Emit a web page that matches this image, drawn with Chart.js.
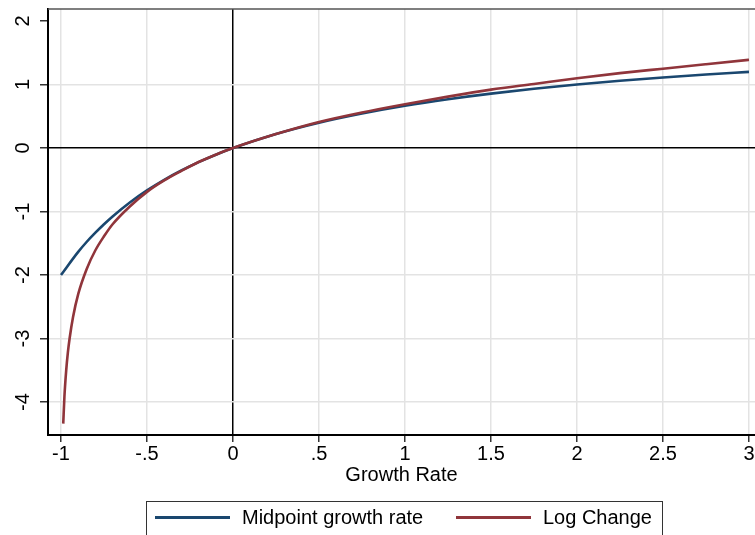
<!DOCTYPE html>
<html>
<head>
<meta charset="utf-8">
<script src="https://cdn.jsdelivr.net/npm/chart.js@4.4.1/dist/chart.umd.min.js"></script>
<style>
    body { margin: 0; background: #fff; }
    #wrap { position: relative; width: 755px; height: 535px; overflow: hidden; }
    #legend {
        position: absolute; left: 146px; top: 501px; width: 517px; height: 45px;
        border: 1px solid #333; box-sizing: border-box;
        font-family: "Liberation Sans", Arial, sans-serif; font-size: 20px; color: #000;
    }
    .item { position: absolute; top: 4px; display: flex; align-items: center; }
    .swatch { width: 75px; height: 3px; margin-right: 12px; }
</style>
</head>
<body>
<div id="wrap">
    <canvas id="growthChart" width="755" height="535"></canvas>
    <div id="legend"></div>
</div>
<script>
// growth rate (x)
const growthRate = [-1, -0.987, -0.98, -0.97, -0.96, -0.95, -0.93, -0.9, -0.85, -0.8, -0.75, -0.7,
    -0.6, -0.5, -0.4, -0.3, -0.2, -0.1, 0, 0.25, 0.5, 0.75, 1, 1.25, 1.5, 1.75, 2, 2.25, 2.5, 2.75, 3];

const midpointRate = [-2, -1.974, -1.961, -1.942, -1.923, -1.905, -1.869, -1.636, -1.476, -1.333, -1.2, -1.077,
    -0.857, -0.667, -0.5, -0.353, -0.222, -0.105, 0, 0.222, 0.4, 0.545, 0.667, 0.769, 0.857, 0.933, 1.0, 1.059, 1.111, 1.158, 1.2];

const logChange = [null, -4.34, -3.91, -3.51, -3.22, -3.0, -2.66, -2.3, -1.9, -1.61, -1.39, -1.2,
    -0.92, -0.69, -0.51, -0.36, -0.22, -0.105, 0, 0.22, 0.41, 0.56, 0.69, 0.81, 0.92, 1.01, 1.1, 1.18, 1.25, 1.32, 1.39];

const xTicks = [-1, -0.5, 0, 0.5, 1, 1.5, 2, 2.5, 3];
const xTickLabels = ['-1', '-.5', '0', '.5', '1', '1.5', '2', '2.5', '3'];
const yTicks = [-4, -3, -2, -1, 0, 1, 2];
const yTickLabels = ['-4', '-3', '-2', '-1', '0', '1', '2'];

const seriesNames = ['Midpoint growth rate', 'Log Change'];
const seriesColors = ['#1a476f', '#90353b'];

const FONT = '"Liberation Sans", Arial, sans-serif';
const GRID = '#e3e3e3';

function toPoints(xs, ys) {
    return xs.map((x, i) => ({ x: x, y: ys[i] })).filter(p => p.y !== null);
}

// midpoint series has fewer real samples near -1, keep only the readable ones
const midX = growthRate.filter((x, i) => i === 0 || i > 6);
const midY = midpointRate.filter((y, i) => i === 0 || i > 6);

const frameLines = {
    id: 'frameLines',
    afterDraw(chart) {
        const { ctx, chartArea, scales } = chart;
        ctx.save();
        // top border of the plot region
        ctx.strokeStyle = '#555';
        ctx.lineWidth = 1.5;
        ctx.beginPath();
        ctx.moveTo(chartArea.left, chartArea.top);
        ctx.lineTo(chartArea.right, chartArea.top);
        ctx.stroke();
        // rotated y tick labels
        ctx.fillStyle = '#000';
        ctx.font = '20px ' + FONT;
        ctx.textAlign = 'center';
        ctx.textBaseline = 'middle';
        yTicks.forEach((v, i) => {
            const py = scales.y.getPixelForValue(v);
            ctx.save();
            ctx.translate(23, py);
            ctx.rotate(-Math.PI / 2);
            ctx.fillText(yTickLabels[i], 0, 0);
            ctx.restore();
        });
        ctx.restore();
    }
};

const chart = new Chart(document.getElementById('growthChart'), {
    type: 'scatter',
    data: {
        datasets: [
            {
                label: seriesNames[0],
                data: toPoints(midX, midY),
                borderColor: seriesColors[0],
                borderWidth: 2.6,
                showLine: true,
                pointRadius: 0,
                cubicInterpolationMode: 'monotone',
                order: 1
            },
            {
                label: seriesNames[1],
                data: toPoints(growthRate, logChange),
                borderColor: seriesColors[1],
                borderWidth: 2.6,
                showLine: true,
                pointRadius: 0,
                cubicInterpolationMode: 'monotone',
                order: 0
            }
        ]
    },
    options: {
        responsive: false,
        animation: false,
        layout: { padding: { top: 9, left: 0, right: 0, bottom: 48 } },
        plugins: {
            legend: { display: false },
            tooltip: { enabled: false }
        },
        scales: {
            x: {
                type: 'linear',
                min: -1.0756,
                max: 3.035,
                afterBuildTicks: (s) => { s.ticks = xTicks.map(v => ({ value: v })); },
                afterFit: (s) => { s.height = 52; },
                border: { color: '#000', width: 2 },
                grid: {
                    color: (c) => c.tick && c.tick.value === 0 ? '#000' : GRID,
                    lineWidth: 1.5,
                    tickColor: '#333',
                    tickLength: 7
                },
                ticks: {
                    color: '#000',
                    padding: 0,
                    maxRotation: 0,
                    font: { family: FONT, size: 20 },
                    callback: (v) => {
                        const i = xTicks.indexOf(v);
                        return i >= 0 ? xTickLabels[i] : '';
                    }
                },
                title: {
                    display: true,
                    text: 'Growth Rate',
                    color: '#000',
                    font: { family: FONT, size: 20 },
                    padding: 0
                }
            },
            y: {
                type: 'linear',
                min: -4.52,
                max: 2.19,
                afterBuildTicks: (s) => { s.ticks = yTicks.map(v => ({ value: v })); },
                afterFit: (s) => { s.width = 48; },
                border: { color: '#000', width: 2 },
                grid: {
                    color: (c) => {
                        if (!c.tick) return GRID;
                        if (c.tick.value === 0) return '#000';
                        if (c.tick.value === 2) return 'rgba(0,0,0,0)';
                        return GRID;
                    },
                    lineWidth: 1.5,
                    tickColor: '#333',
                    tickLength: 8
                },
                ticks: { display: false }
            }
        }
    },
    plugins: [frameLines]
});

// legend, built from the series names and colours
const legend = document.getElementById('legend');
const itemLeft = [8, 309];
seriesNames.forEach((name, i) => {
    const item = document.createElement('div');
    item.className = 'item';
    item.style.left = itemLeft[i] + 'px';
    item.innerHTML = `<span class="swatch" style="background:${seriesColors[i]}"></span><span>${name}</span>`;
    legend.appendChild(item);
});
</script>
</body>
</html>
